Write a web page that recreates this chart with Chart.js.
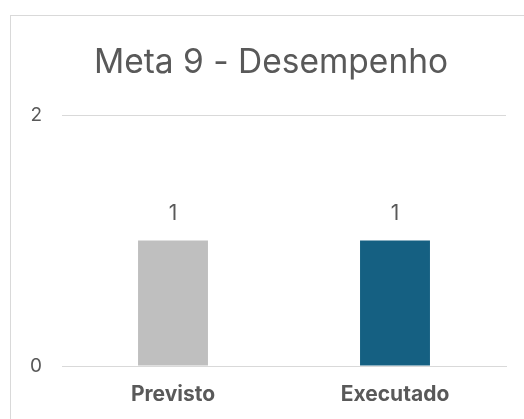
<!DOCTYPE html>
<html>
<head>
<meta charset="utf-8">
<script src="https://cdn.jsdelivr.net/npm/chart.js@4"></script>
<style>
  html, body { margin: 0; padding: 0; background: #fff; overflow: hidden; }
  #wrap { position: relative; width: 524px; height: 419px; }
  #frame {
    position: absolute; left: 10px; top: 15px; width: 600px; height: 500px;
    border: 1px solid #d9d9d9; box-sizing: border-box;
  }
  canvas { position: absolute; left: 0; top: 0; }
</style>
</head>
<body>
<div id="wrap">
  <div id="frame"></div>
  <canvas id="chart" width="524" height="419"></canvas>
</div>
<script>
// chart data
const categories = ["Previsto", "Executado"];
const values = [1, 1];
const barColors = ["#bfbfbf", "#156082"];
const yTicks = [0, 2];
const chartTitle = "Meta 9 - Desempenho";

const FONT = "Inter, 'Open Sans', sans-serif";
const TEXT = "#595959";

// draws the value above each bar
const valueLabels = {
  id: "valueLabels",
  afterDatasetsDraw(chart) {
    const ctx = chart.ctx;
    const meta = chart.getDatasetMeta(0);
    ctx.save();
    ctx.font = "21px " + FONT;
    ctx.fillStyle = TEXT;
    ctx.textAlign = "center";
    ctx.textBaseline = "bottom";
    meta.data.forEach((bar, i) => {
      ctx.fillText(String(values[i]), bar.x, bar.y - 16);
    });
    ctx.restore();
  }
};

new Chart(document.getElementById("chart"), {
  type: "bar",
  data: {
    labels: categories,
    datasets: [{
      data: values,
      backgroundColor: barColors,
      categoryPercentage: 0.63,
      barPercentage: 0.5
    }]
  },
  options: {
    responsive: false,
    animation: false,
    layout: { padding: { left: 24, right: 6, top: 0, bottom: 0 } },
    plugins: {
      legend: { display: false },
      tooltip: { enabled: false },
      title: {
        display: true,
        text: chartTitle,
        color: TEXT,
        font: { family: FONT, size: 33.5, weight: "normal" },
        padding: { top: 43, bottom: 32 }
      }
    },
    scales: {
      x: {
        grid: { display: false, drawTicks: false },
        border: { display: true, color: "#d9d9d9", width: 1 },
        ticks: {
          color: TEXT,
          font: { family: FONT, size: 21, weight: "bold" },
          padding: 16
        },
        afterFit: (s) => { s.height = 53; }
      },
      y: {
        min: 0,
        max: 2,
        afterBuildTicks: (s) => { s.ticks = yTicks.map(v => ({ value: v })); },
        grid: { color: "#d9d9d9", drawTicks: false },
        border: { display: false },
        ticks: {
          color: TEXT,
          font: { family: FONT, size: 19 },
          padding: 20
        },
        afterFit: (s) => { s.width = 38; }
      },
      // empty right-hand gutter so the title centres like the reference
      gutter: {
        position: "right",
        min: 0,
        max: 2,
        grid: { display: false, drawTicks: false },
        border: { display: false },
        ticks: { display: false },
        afterFit: (s) => { s.width = 12; }
      }
    }
  },
  plugins: [valueLabels]
});
</script>
</body>
</html>
